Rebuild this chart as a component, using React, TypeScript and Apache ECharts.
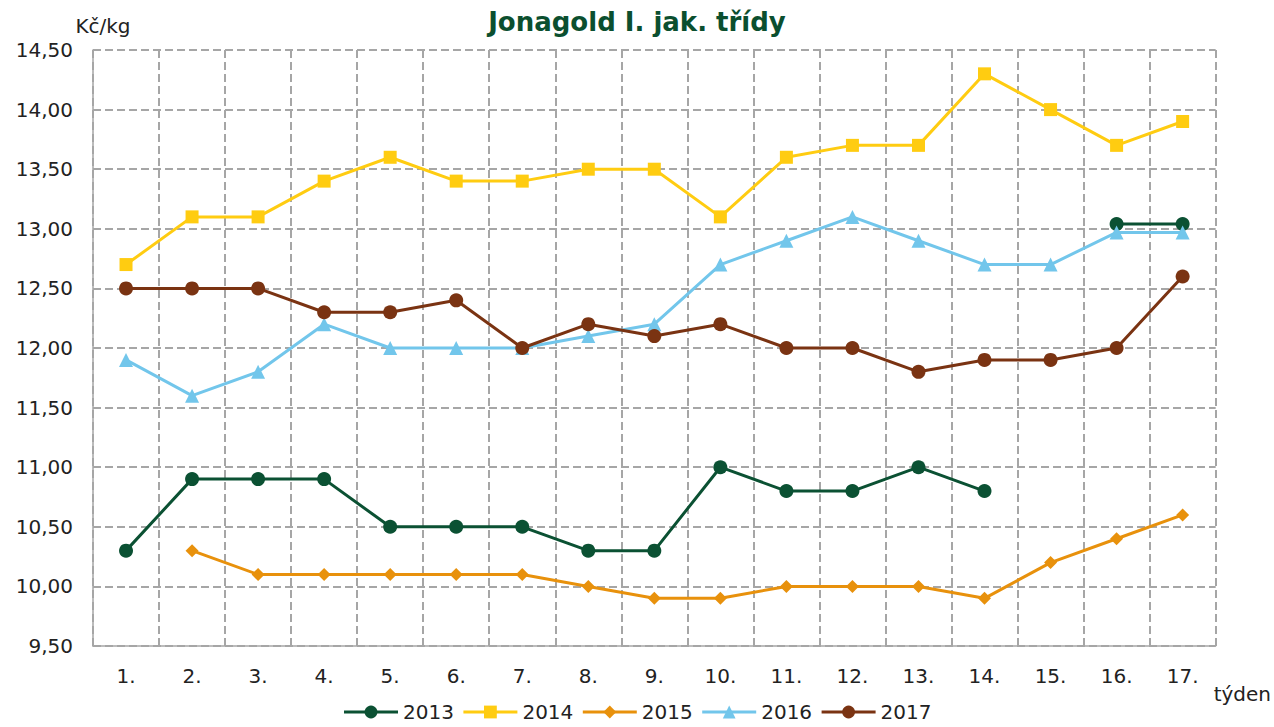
import React, { useEffect, useRef } from "react";
import * as echarts from "echarts";

const weeks = ["1.", "2.", "3.", "4.", "5.", "6.", "7.", "8.", "9.", "10.", "11.", "12.", "13.", "14.", "15.", "16.", "17."];
const s2013 = [10.3, 10.9, 10.9, 10.9, 10.5, 10.5, 10.5, 10.3, 10.3, 11.0, 10.8, 10.8, 11.0, 10.8, null, 13.04, 13.04];
const s2014 = [12.7, 13.1, 13.1, 13.4, 13.6, 13.4, 13.4, 13.5, 13.5, 13.1, 13.6, 13.7, 13.7, 14.3, 14.0, 13.7, 13.9];
const s2015 = [null, 10.3, 10.1, 10.1, 10.1, 10.1, 10.1, 10.0, 9.9, 9.9, 10.0, 10.0, 10.0, 9.9, 10.2, 10.4, 10.6];
const s2016 = [11.9, 11.6, 11.8, 12.2, 12.0, 12.0, 12.0, 12.1, 12.2, 12.7, 12.9, 13.1, 12.9, 12.7, 12.7, 12.97, 12.97];
const s2017 = [12.5, 12.5, 12.5, 12.3, 12.3, 12.4, 12.0, 12.2, 12.1, 12.2, 12.0, 12.0, 11.8, 11.9, 11.9, 12.0, 12.6];

const FONT = "DejaVu Sans";

function mk(name: string, data: (number | null)[], color: string, symbol: string, size: number) {
  return {
    name,
    type: "line",
    data,
    symbol,
    symbolSize: size,
    connectNulls: false,
    lineStyle: { color, width: 3 },
    itemStyle: { color },
  };
}

export default function App() {
  const ref = useRef<HTMLDivElement>(null);
  useEffect(() => {
    if (!ref.current) return;
    const chart = echarts.init(ref.current, null, { renderer: "svg" });
    chart.setOption({
      animation: false,
      backgroundColor: "#fff",
      textStyle: { fontFamily: FONT },
      title: {
        text: "Jonagold I. jak. třídy",
        left: "center",
        top: 4,
        textStyle: { fontFamily: FONT, fontSize: 26, fontWeight: "bold", color: "#0B4F2F" },
      },
      grid: { left: 93, right: 54, top: 50, bottom: 81, containLabel: false },
      legend: {
        bottom: 0,
        left: "center",
        itemWidth: 54,
        itemHeight: 16,
        itemGap: 8,
        lineStyle: { width: 3 },
        textStyle: { fontFamily: FONT, fontSize: 20, color: "#222" },
        data: ["2013", "2014", "2015", "2016", "2017"],
      },
      xAxis: {
        type: "category",
        data: weeks,
        boundaryGap: true,
        name: "týden",
        nameLocation: "end",
        nameGap: 8,
        nameTextStyle: { fontFamily: FONT, fontSize: 20, color: "#222", verticalAlign: "top", padding: [38, 0, 0, -10] },
        axisLine: { lineStyle: { color: "#a6a6a6", width: 1.5 } },
        axisTick: { show: false },
        axisLabel: { fontFamily: FONT, fontSize: 20, color: "#222", margin: 20 },
        splitLine: { show: true, interval: 0, lineStyle: { color: "#a6a6a6", type: [8, 4], width: 2 } },
      },
      yAxis: {
        type: "value",
        min: 9.5,
        max: 14.5,
        interval: 0.5,
        name: "Kč/kg",
        nameLocation: "end",
        nameGap: 14,
        nameTextStyle: { fontFamily: FONT, fontSize: 20, color: "#222", align: "center", padding: [0, 0, 0, 20] },
        axisLine: { show: true, lineStyle: { color: "#a6a6a6", width: 1.5 } },
        axisTick: { show: false },
        axisLabel: {
          fontFamily: FONT,
          fontSize: 20,
          color: "#222",
          margin: 20,
          formatter: (v: number) => v.toFixed(2).replace(".", ","),
        },
        splitLine: { show: true, lineStyle: { color: "#a6a6a6", type: [8, 4], width: 2 } },
      },
      series: [
        mk("2013", s2013, "#0B5133", "circle", 14),
        mk("2014", s2014, "#FFCC11", "rect", 13),
        mk("2015", s2015, "#E8910C", "diamond", 13),
        mk("2016", s2016, "#72C6EB", "triangle", 14),
        mk("2017", s2017, "#7A3312", "circle", 14),
      ],
    });
    return () => chart.dispose();
  }, []);
  return <div ref={ref} style={{ width: 1274, height: 727, position: "absolute", left: 0, top: 0 }} />;
}
